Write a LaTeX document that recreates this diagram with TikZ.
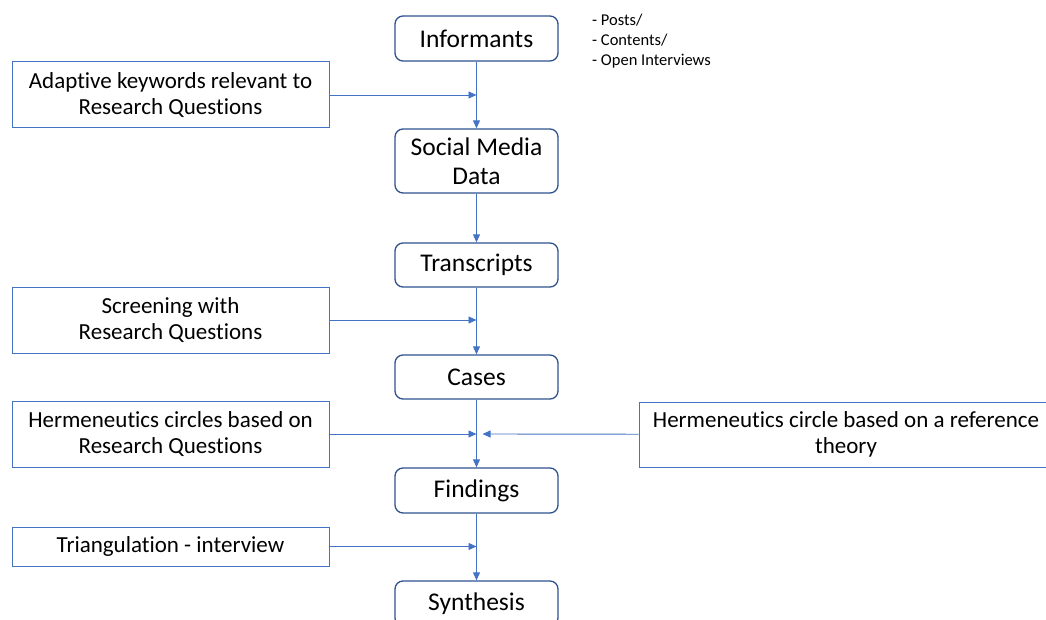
\documentclass[tikz,border=0pt]{standalone}
\usepackage{fontspec}
\setmainfont{Carlito}[Ligatures=NoCommon]
\usetikzlibrary{arrows.meta}
\definecolor{darkblue}{HTML}{2F528F}
\definecolor{midblue}{HTML}{4472C4}
\begin{document}
\begin{tikzpicture}[x=1pt,y=-1pt,
  mainbox/.style={draw=darkblue,line width=1.3pt,rounded corners=8pt,fill=white,
    minimum width=163pt,inner sep=2pt,align=center,text=black,
    font=\fontsize{25.5}{29.3}\selectfont},
  sidebox/.style={draw=midblue,line width=1pt,fill=white,
    minimum width=317pt,inner sep=2pt,align=center,text=black,
    font=\fontsize{23}{25.8}\selectfont},
  arr/.style={draw=midblue,line width=0.9pt,-{Triangle[length=8pt,width=7pt]}}]
\useasboundingbox (0,0) rectangle (1046,620);
% main column
\node[mainbox,minimum height=45pt] (inf) at (476.5,38.5) {Informants};
\node[mainbox,minimum height=64pt] (soc) at (476.5,161) {Social Media\\Data};
\node[mainbox,minimum height=44pt] (tra) at (476.5,265) {Transcripts};
\node[mainbox,minimum height=44pt] (cas) at (476.5,377) {Cases};
\node[mainbox,minimum height=45pt] (fin) at (476.5,490.5) {Findings};
\node[mainbox,minimum height=45pt] (syn) at (476.5,603.5) {Synthesis};
% side boxes
\node[sidebox,minimum height=66pt] (ada) at (170.5,95) {Adaptive keywords relevant to\\Research Questions};
\node[sidebox,minimum height=66pt] (scr) at (170.5,320) {Screening with\\Research Questions};
\node[sidebox,minimum height=66pt] (hel) at (170.5,434) {Hermeneutics circles based on\\Research Questions};
\node[sidebox,minimum height=39pt] (tri) at (170.5,546.5) {Triangulation - interview};
\node[sidebox,minimum width=414pt,minimum height=65pt] (her) at (846,434.5) {Hermeneutics circle based on a reference\\theory};
% note
\node[anchor=north west,inner sep=0pt,align=left,text=black,
  font=\fontsize{16.5}{20}\selectfont] (note) at (592,14) {- Posts/\\- Contents/\\- Open Interviews};
% connectors
\draw[arr] (inf) -- (soc);
\draw[arr] (soc) -- (tra);
\draw[arr] (tra) -- (cas);
\draw[arr] (cas) -- (fin);
\draw[arr] (fin) -- (syn);
\coordinate (j1) at (ada -| inf);
\coordinate (j2) at (scr -| inf);
\coordinate (j3) at (hel -| inf);
\coordinate (j3r) at ([xshift=6pt]j3);
\coordinate (j4) at (tri -| inf);
\draw[arr] (ada) -- (j1);
\draw[arr] (scr) -- (j2);
\draw[arr] (hel) -- (j3);
\draw[arr] (her) -- (j3r);
\draw[arr] (tri) -- (j4);
\end{tikzpicture}
\end{document}
